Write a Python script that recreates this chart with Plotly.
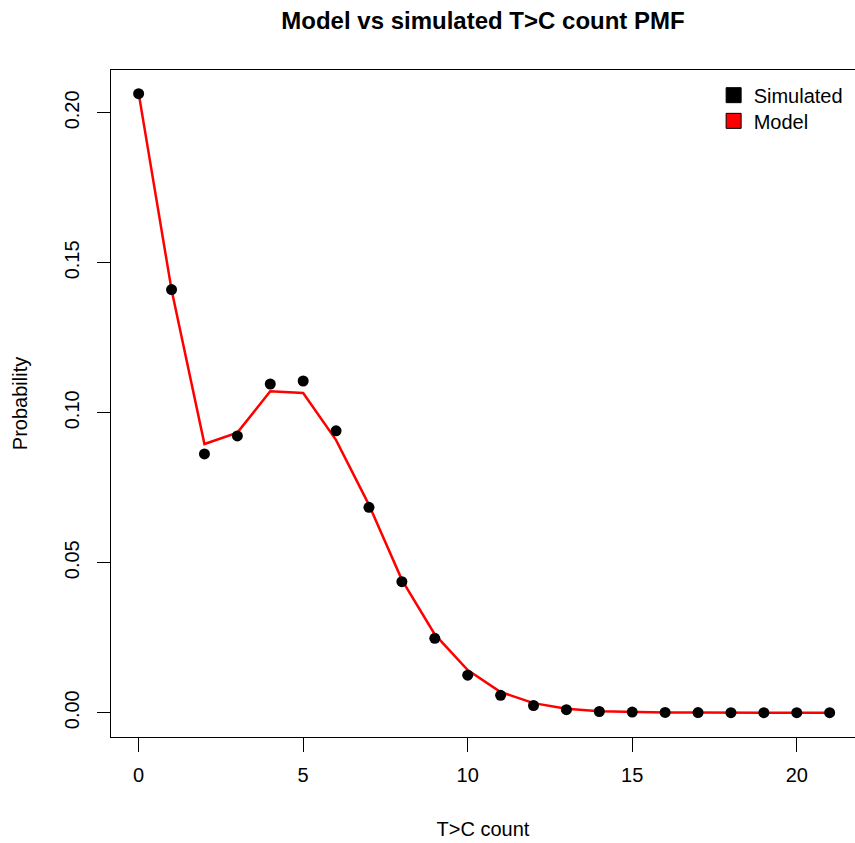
import plotly.graph_objects as go

counts = list(range(22))
simulated = [0.2064, 0.1411, 0.0863, 0.0923, 0.1096, 0.1106, 0.0940, 0.0685, 0.0437,
             0.0248, 0.0125, 0.0058, 0.0024, 0.0010, 0.0004, 0.0002, 0.0001, 0.00005,
             0.00002, 0.00001, 0.0, 0.0]
model = [0.2066, 0.1410, 0.0896, 0.0934, 0.1072, 0.1066, 0.0909, 0.0693, 0.0443,
         0.0261, 0.0142, 0.0069, 0.0032, 0.0013, 0.0005, 0.0002, 0.0001, 0.00003,
         0.00001, 0.0, 0.0, 0.0]
x_ticks = [0, 5, 10, 15, 20]
y_ticks = [0.0, 0.05, 0.10, 0.15, 0.20]

FONT = "Liberation Sans, Arial, Helvetica, sans-serif"

fig = go.Figure()
fig.add_trace(go.Scatter(x=counts, y=model, mode="lines",
                         line=dict(color="#ff0000", width=2.5), showlegend=False))
fig.add_trace(go.Scatter(x=counts, y=simulated, mode="markers",
                         marker=dict(color="black", size=11), showlegend=False))
# legend entries
fig.add_trace(go.Scatter(x=[None], y=[None], mode="markers", name="Simulated",
                         legend="legend",
                         marker=dict(symbol="square", color="black", size=15,
                                     line=dict(color="black", width=1))))
fig.add_trace(go.Scatter(x=[None], y=[None], mode="markers", name="Model",
                         legend="legend2",
                         marker=dict(symbol="square", color="#ff0000", size=15,
                                     line=dict(color="black", width=1))))

legend_common = dict(xanchor="left", yanchor="top", bgcolor="rgba(0,0,0,0)",
                     borderwidth=0, font=dict(family=FONT, size=20, color="black"),
                     itemwidth=30)

fig.update_layout(
    width=855, height=843,
    margin=dict(l=111, r=0, t=70, b=106),
    paper_bgcolor="white", plot_bgcolor="white",
    font=dict(family=FONT, size=20, color="black"),
    title=dict(text="<b>Model vs simulated T>C count PMF</b>", x=0.5, xref="paper",
               xanchor="center", y=1 - 21 / 843, yanchor="middle",
               font=dict(family=FONT, size=24, color="black")),
    showlegend=True,
    legend=dict(x=0.81, y=0.9915, **legend_common),
    legend2=dict(x=0.81, y=0.953, **legend_common),
    xaxis=dict(range=[-0.84, 21.77], tickvals=x_ticks, ticktext=[str(v) for v in x_ticks],
               showgrid=False, zeroline=False, showline=True, linecolor="black",
               linewidth=1, mirror=True, ticks="outside", ticklen=14, tickwidth=1,
               tickcolor="black", ticklabelstandoff=6,
               title=dict(text="T>C count", standoff=36,
                          font=dict(family=FONT, size=20))),
    yaxis=dict(range=[-0.0081, 0.2143], tickvals=y_ticks, tickformat=".2f",
               showgrid=False, zeroline=False, showline=True, linecolor="black",
               linewidth=1, ticks="outside", ticklen=13, tickwidth=1,
               tickcolor="black", tickangle=-90, ticklabelstandoff=10,
               title=dict(text="Probability", standoff=28,
                          font=dict(family=FONT, size=20))),
)

fig.write_html("out.html")
